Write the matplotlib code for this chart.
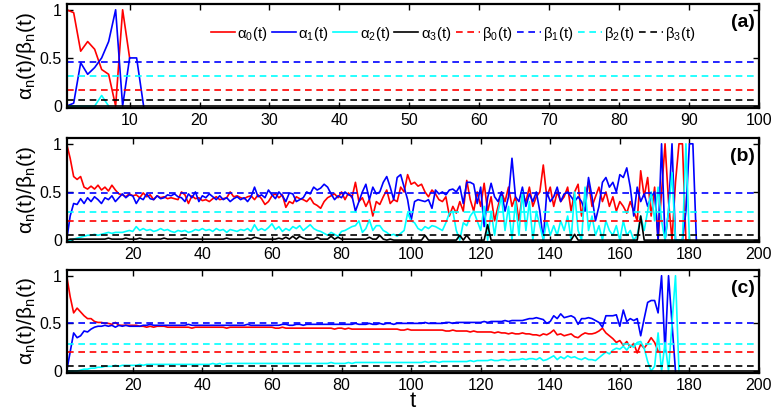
import numpy as np
import matplotlib.pyplot as plt

plt.rcParams['font.family'] = ['Liberation Sans', 'DejaVu Sans']
plt.rcParams['mathtext.fontset'] = 'custom'
plt.rcParams['mathtext.rm'] = 'Liberation Sans'
plt.rcParams['mathtext.it'] = 'Liberation Sans:italic'

# ---- data ----
# panel (a)
red_a = [1.00, 0.97, 0.57, 0.67, 0.59, 0.38, 0.33, 0.00, 1.00, 0.50]
blue_a = [0.00, 0.03, 0.45, 0.33, 0.40, 0.50, 0.67, 1.00, 0.00, 0.50, 0.50, 0.00]
cyan_a = [0.00, 0.00, 0.00, 0.00, 0.00, 0.11, 0.00]
black_a = [0.0] * 100
beta_a = [0.167, 0.46, 0.31, 0.06]

# panel (b)
red_b = [1.00, 0.85, 0.66, 0.63, 0.66, 0.55, 0.53, 0.56, 0.53, 0.57,
         0.52, 0.55, 0.51, 0.57, 0.52, 0.48, 0.47, 0.45, 0.48, 0.46,
         0.47, 0.44, 0.49, 0.45, 0.47, 0.42, 0.46, 0.44, 0.45, 0.43,
         0.44, 0.43, 0.42, 0.50, 0.47, 0.38, 0.46, 0.43, 0.44, 0.41,
         0.42, 0.40, 0.43, 0.45, 0.42, 0.43, 0.44, 0.50, 0.45, 0.46,
         0.44, 0.43, 0.45, 0.46, 0.42, 0.47, 0.43, 0.37, 0.40, 0.46,
         0.48, 0.44, 0.47, 0.34, 0.40, 0.38, 0.45, 0.43, 0.42, 0.40,
         0.44, 0.38, 0.36, 0.33, 0.40, 0.44, 0.46, 0.48, 0.44, 0.50,
         0.42, 0.49, 0.44, 0.60, 0.40, 0.44, 0.35, 0.42, 0.25, 0.40,
         0.37, 0.45, 0.52, 0.38, 0.42, 0.40, 0.55, 0.50, 0.68, 0.58,
         0.60, 0.56, 0.58, 0.50, 0.45, 0.52, 0.48, 0.42, 0.40, 0.45,
         0.25, 0.35, 0.28, 0.40, 0.30, 0.62, 0.42, 0.30, 0.50, 0.35,
         0.59, 0.30, 0.45, 0.20, 0.35, 0.50, 0.40, 0.55, 0.35, 0.45,
         0.20, 0.48, 0.40, 0.55, 0.35, 0.45, 0.50, 0.78, 0.45, 0.55,
         0.35, 0.50, 0.40, 0.45, 0.55, 0.30, 0.50, 0.58, 0.25, 0.45,
         0.60, 0.35, 0.45, 0.55, 0.40, 0.50, 0.35, 0.45, 0.30, 0.40,
         0.35, 0.28, 0.40, 0.30, 0.20, 0.72, 0.45, 0.65, 0.25, 0.55,
         0.00, 0.50, 1.00, 0.40, 0.00, 0.60, 1.00, 1.00, 0.00, 0.00]
blue_b = [0.00, 0.25, 0.38, 0.37, 0.43, 0.38, 0.44, 0.40, 0.45, 0.42,
          0.38, 0.44, 0.42, 0.46, 0.40, 0.44, 0.48, 0.44, 0.47, 0.46,
          0.38, 0.44, 0.42, 0.48, 0.43, 0.42, 0.46, 0.43, 0.44, 0.47,
          0.46, 0.48, 0.45, 0.44, 0.40, 0.48, 0.44, 0.50, 0.40, 0.46,
          0.44, 0.48, 0.45, 0.42, 0.46, 0.42, 0.44, 0.40, 0.43, 0.45,
          0.42, 0.44, 0.40, 0.45, 0.55, 0.45, 0.47, 0.44, 0.52, 0.47,
          0.43, 0.50, 0.46, 0.40, 0.49, 0.48, 0.40, 0.42, 0.44, 0.50,
          0.48, 0.55, 0.52, 0.54, 0.58, 0.55, 0.48, 0.42, 0.46, 0.44,
          0.50, 0.47, 0.46, 0.30, 0.40, 0.50, 0.58, 0.42, 0.55, 0.48,
          0.50, 0.60, 0.66, 0.55, 0.42, 0.65, 0.68, 0.55, 0.42, 0.20,
          0.40, 0.42, 0.41, 0.40, 0.42, 0.33, 0.52, 0.48, 0.50, 0.47,
          0.52, 0.53, 0.50, 0.56, 0.38, 0.60, 0.60, 0.58, 0.38, 0.55,
          0.14, 0.44, 0.59, 0.45, 0.40, 0.50, 0.30, 0.45, 0.85, 0.45,
          0.40, 0.55, 0.35, 0.48, 0.40, 0.50, 0.30, 0.00, 0.50, 0.40,
          0.45, 0.55, 0.40, 0.48, 0.50, 0.45, 0.40, 0.45, 0.40, 0.30,
          0.65, 0.45, 0.20, 0.35, 0.60, 0.65, 0.55, 0.60, 0.50, 0.68,
          0.65, 0.75, 0.55, 0.25, 0.55, 0.40, 0.48, 0.35, 0.45, 0.50,
          0.00, 1.00, 0.00, 0.30, 1.00, 0.00, 0.00, 0.00, 0.30, 1.00,
          1.00, 0.00]
cyan_b = [0.00, 0.00, 0.01, 0.02, 0.03, 0.04, 0.05, 0.05, 0.06, 0.05,
          0.06, 0.07, 0.08, 0.07, 0.08, 0.08, 0.08, 0.09, 0.10, 0.09,
          0.14, 0.10, 0.12, 0.10, 0.11, 0.09, 0.10, 0.12, 0.10, 0.11,
          0.09, 0.08, 0.10, 0.09, 0.10, 0.08, 0.09, 0.11, 0.10, 0.12,
          0.10, 0.11, 0.09, 0.12, 0.10, 0.11, 0.08, 0.11, 0.10, 0.09,
          0.11, 0.10, 0.12, 0.09, 0.16, 0.10, 0.12, 0.10, 0.13, 0.17,
          0.11, 0.14, 0.09, 0.12, 0.10, 0.14, 0.12, 0.15, 0.10, 0.13,
          0.16, 0.12, 0.10, 0.09, 0.07, 0.05, 0.08, 0.06, 0.04, 0.09,
          0.10, 0.12, 0.14, 0.15, 0.20, 0.08, 0.12, 0.21, 0.10, 0.15,
          0.15, 0.10, 0.08, 0.05, 0.06, 0.04, 0.07, 0.10, 0.28, 0.20,
          0.18, 0.12, 0.10, 0.14, 0.12, 0.15, 0.14, 0.12, 0.10, 0.18,
          0.28, 0.30, 0.10, 0.00, 0.18, 0.15, 0.25, 0.30, 0.20, 0.10,
          0.35, 0.00, 0.30, 0.05, 0.30, 0.45, 0.10, 0.35, 0.00, 0.40,
          0.05, 0.50, 0.10, 0.40, 0.00, 0.30, 0.15, 0.00, 0.20, 0.05,
          0.15, 0.05, 0.20, 0.10, 0.25, 0.00, 0.50, 0.10, 0.00, 0.55,
          0.10, 0.25, 0.05, 0.15, 0.00, 0.20, 0.10, 0.05, 0.15, 0.00,
          0.20, 0.05, 0.10, 0.00, 0.05, 0.25, 0.10, 0.30, 0.50, 0.20,
          0.55, 0.20, 0.00, 0.30, 0.70, 0.00, 0.00, 0.00, 1.00, 0.00]
black_b = [0.00, 0.01, 0.01, 0.01, 0.01, 0.01, 0.01, 0.01, 0.01, 0.01,
           0.01, 0.01, 0.02, 0.01, 0.01, 0.01, 0.01, 0.02, 0.01, 0.01,
           0.01, 0.02, 0.01, 0.01, 0.01, 0.01, 0.01, 0.01, 0.02, 0.01,
           0.01, 0.01, 0.01, 0.01, 0.02, 0.01, 0.01, 0.01, 0.01, 0.01,
           0.01, 0.01, 0.01, 0.01, 0.01, 0.01, 0.02, 0.01, 0.01, 0.01,
           0.01, 0.01, 0.02, 0.01, 0.03, 0.02, 0.01, 0.01, 0.01, 0.01,
           0.01, 0.02, 0.01, 0.03, 0.01, 0.04, 0.01, 0.04, 0.02, 0.01,
           0.01, 0.01, 0.03, 0.01, 0.01, 0.01, 0.04, 0.01, 0.03, 0.01,
           0.01, 0.01, 0.01, 0.01, 0.01, 0.01, 0.01, 0.03, 0.01, 0.01,
           0.05, 0.01, 0.00, 0.01, 0.00, 0.00, 0.00, 0.00, 0.00, 0.00,
           0.00, 0.00, 0.00, 0.05, 0.00, 0.00, 0.00, 0.00, 0.00, 0.00,
           0.00, 0.00, 0.00, 0.05, 0.00, 0.05, 0.00, 0.00, 0.00, 0.00,
           0.00, 0.16, 0.00, 0.00, 0.00, 0.00, 0.00, 0.00, 0.00, 0.00,
           0.00, 0.00, 0.00, 0.00, 0.00, 0.00, 0.00, 0.00, 0.00, 0.00,
           0.00, 0.00, 0.00, 0.00, 0.00, 0.00, 0.06, 0.00, 0.00, 0.00,
           0.00, 0.00, 0.00, 0.00, 0.00, 0.00, 0.00, 0.00, 0.00, 0.00,
           0.00, 0.00, 0.00, 0.00, 0.00, 0.25, 0.00, 0.00, 0.00, 0.00,
           0.00, 0.00, 0.00, 0.00, 0.00, 0.00, 0.00, 0.00, 0.00, 0.00,
           0.00, 0.00, 0.00, 0.00, 0.00, 0.00, 0.00, 0.00, 0.00, 0.00,
           0.00, 0.00, 0.00, 0.00, 0.00, 0.00, 0.00, 0.00, 0.00, 0.00]
beta_b = [0.196, 0.488, 0.29, 0.058]

# panel (c)
red_c = [1.00, 0.78, 0.61, 0.66, 0.62, 0.58, 0.55, 0.55, 0.52, 0.51,
         0.51, 0.50, 0.50, 0.49, 0.51, 0.48, 0.48, 0.48, 0.48, 0.48,
         0.48, 0.47, 0.47, 0.46, 0.47, 0.46, 0.47, 0.47, 0.47, 0.46,
         0.46, 0.46, 0.46, 0.46, 0.46, 0.46, 0.45, 0.46, 0.46, 0.46,
         0.46, 0.46, 0.46, 0.46, 0.46, 0.46, 0.45, 0.46, 0.46, 0.46,
         0.46, 0.46, 0.46, 0.46, 0.46, 0.46, 0.46, 0.46, 0.46, 0.46,
         0.45, 0.45, 0.46, 0.45, 0.45, 0.45, 0.45, 0.45, 0.45, 0.45,
         0.45, 0.45, 0.45, 0.45, 0.45, 0.45, 0.45, 0.44, 0.45, 0.45,
         0.44, 0.45, 0.44, 0.44, 0.44, 0.44, 0.44, 0.44, 0.44, 0.44,
         0.44, 0.44, 0.44, 0.44, 0.44, 0.44, 0.43, 0.43, 0.44, 0.43,
         0.43, 0.43, 0.43, 0.43, 0.43, 0.43, 0.43, 0.43, 0.43, 0.42,
         0.42, 0.43, 0.42, 0.42, 0.42, 0.42, 0.41, 0.42, 0.41, 0.41,
         0.41, 0.41, 0.41, 0.40, 0.41, 0.40, 0.40, 0.39, 0.40, 0.39,
         0.39, 0.40, 0.39, 0.39, 0.38, 0.38, 0.37, 0.39, 0.38, 0.40,
         0.43, 0.38, 0.39, 0.37, 0.38, 0.39, 0.36, 0.35, 0.38, 0.40,
         0.39, 0.39, 0.40, 0.42, 0.45, 0.40, 0.37, 0.34, 0.30, 0.32,
         0.27, 0.31, 0.25, 0.29, 0.19, 0.28, 0.24, 0.29, 0.35, 0.30,
         0.21]
blue_c = [0.00, 0.20, 0.40, 0.35, 0.37, 0.42, 0.41, 0.44, 0.46, 0.47,
          0.47, 0.48, 0.47, 0.48, 0.46, 0.48, 0.47, 0.48, 0.47, 0.47,
          0.47, 0.47, 0.48, 0.48, 0.49, 0.48, 0.48, 0.48, 0.48, 0.48,
          0.48, 0.48, 0.48, 0.48, 0.48, 0.49, 0.48, 0.48, 0.48, 0.48,
          0.48, 0.48, 0.48, 0.48, 0.48, 0.48, 0.48, 0.48, 0.48, 0.48,
          0.48, 0.48, 0.49, 0.48, 0.48, 0.48, 0.48, 0.48, 0.48, 0.48,
          0.48, 0.48, 0.49, 0.49, 0.48, 0.48, 0.49, 0.49, 0.48, 0.49,
          0.49, 0.49, 0.49, 0.49, 0.49, 0.49, 0.49, 0.49, 0.49, 0.49,
          0.49, 0.49, 0.49, 0.50, 0.49, 0.49, 0.49, 0.50, 0.49, 0.49,
          0.50, 0.49, 0.50, 0.50, 0.49, 0.50, 0.50, 0.50, 0.50, 0.50,
          0.50, 0.50, 0.50, 0.51, 0.50, 0.50, 0.50, 0.50, 0.50, 0.51,
          0.51, 0.50, 0.51, 0.51, 0.51, 0.51, 0.51, 0.51, 0.51, 0.51,
          0.52, 0.51, 0.52, 0.52, 0.52, 0.52, 0.53, 0.52, 0.53, 0.53,
          0.53, 0.53, 0.54, 0.55, 0.55, 0.56, 0.55, 0.54, 0.50, 0.52,
          0.58, 0.55, 0.60, 0.56, 0.57, 0.58, 0.56, 0.49, 0.55, 0.55,
          0.56, 0.55, 0.53, 0.51, 0.46, 0.58, 0.58, 0.58, 0.59, 0.47,
          0.64, 0.52, 0.55, 0.53, 0.55, 0.37, 0.55, 0.72, 0.74, 0.74,
          0.61, 1.00, 0.20, 1.00, 0.50, 0.00]
cyan_c = [0.00, 0.00, 0.00, 0.00, 0.01, 0.02, 0.02, 0.03, 0.03, 0.04,
          0.04, 0.05, 0.05, 0.05, 0.06, 0.05, 0.06, 0.06, 0.06, 0.06,
          0.06, 0.07, 0.06, 0.07, 0.07, 0.07, 0.07, 0.07, 0.07, 0.07,
          0.07, 0.07, 0.07, 0.07, 0.07, 0.07, 0.07, 0.07, 0.07, 0.07,
          0.07, 0.07, 0.08, 0.07, 0.08, 0.07, 0.08, 0.08, 0.08, 0.08,
          0.08, 0.08, 0.08, 0.08, 0.08, 0.08, 0.08, 0.08, 0.08, 0.08,
          0.08, 0.08, 0.08, 0.08, 0.08, 0.08, 0.08, 0.08, 0.08, 0.08,
          0.08, 0.08, 0.08, 0.08, 0.08, 0.08, 0.09, 0.08, 0.08, 0.08,
          0.08, 0.09, 0.08, 0.09, 0.09, 0.09, 0.09, 0.09, 0.09, 0.09,
          0.09, 0.09, 0.09, 0.09, 0.09, 0.09, 0.09, 0.09, 0.09, 0.09,
          0.09, 0.09, 0.09, 0.10, 0.09, 0.10, 0.10, 0.09, 0.10, 0.10,
          0.10, 0.10, 0.10, 0.10, 0.10, 0.10, 0.11, 0.10, 0.11, 0.11,
          0.11, 0.11, 0.12, 0.11, 0.11, 0.12, 0.12, 0.11, 0.12, 0.12,
          0.12, 0.13, 0.12, 0.13, 0.13, 0.12, 0.14, 0.11, 0.12, 0.14,
          0.16, 0.12, 0.15, 0.13, 0.16, 0.14, 0.15, 0.13, 0.12, 0.14,
          0.12, 0.12, 0.11, 0.14, 0.17, 0.20, 0.18, 0.22, 0.24, 0.23,
          0.26, 0.22, 0.27, 0.25, 0.30, 0.31, 0.24, 0.10, 0.00, 0.05,
          0.40, 0.00, 0.30, 0.00, 0.50, 1.00, 0.00]
black_c = [0.0] * 200
beta_c = [0.204, 0.50, 0.285, 0.053]

colors = ['#ff0000', '#0000ff', '#00ffff', '#000000']
alpha_labels = ['α$_0$(t)', 'α$_1$(t)', 'α$_2$(t)', 'α$_3$(t)']
beta_labels = ['β$_0$(t)', 'β$_1$(t)', 'β$_2$(t)', 'β$_3$(t)']


def draw_panel(ax, alphas, betas, xmax, xticks, tag):
    for series, c, lab in zip(alphas, colors, alpha_labels):
        t = np.arange(1, len(series) + 1)
        ax.plot(t, series, color=c, lw=1.2, label=lab)
    for b, c, lab in zip(betas, colors, beta_labels):
        ax.axhline(b, color=c, lw=1.2, dashes=(4, 2.8), label=lab)
    ax.set_xlim(1, xmax)
    ax.set_ylim(-0.02, 1.06)
    ax.set_xticks(xticks)
    ax.set_yticks([0, 0.5, 1])
    ax.set_yticklabels(['0', '0.5', '1'])
    ax.tick_params(direction='in', top=True, right=True, length=4,
                   width=1, labelsize=11.5)
    for s in ax.spines.values():
        s.set_linewidth(1.6)
    ax.set_ylabel('α$_\\mathrm{n}$(t)/β$_\\mathrm{n}$(t)', fontsize=15,
                  labelpad=1)
    ax.text(0.994, 0.82, tag, transform=ax.transAxes, ha='right',
            va='center', fontsize=14, fontweight='bold')


fig = plt.figure(figsize=(7.79, 4.13), dpi=100)
ax_a = fig.add_axes([0.0856, 0.7385, 0.8887, 0.2518])
ax_b = fig.add_axes([0.0856, 0.414, 0.8887, 0.2518])
ax_c = fig.add_axes([0.0856, 0.0969, 0.8887, 0.2494])

draw_panel(ax_a, [red_a, blue_a, cyan_a, black_a], beta_a, 100,
           range(10, 101, 10), '(a)')
draw_panel(ax_b, [red_b, blue_b, cyan_b, black_b], beta_b, 200,
           range(20, 201, 20), '(b)')
draw_panel(ax_c, [red_c, blue_c, cyan_c, black_c], beta_c, 200,
           range(20, 201, 20), '(c)')

ax_a.legend(ncol=8, loc='upper left', bbox_to_anchor=(0.2, 0.86),
            frameon=False, fontsize=10.8, handlelength=1.6,
            handletextpad=0.15, columnspacing=0.3, borderaxespad=0)
ax_c.set_xlabel('t', fontsize=16, labelpad=-1)

fig.savefig('out.png', dpi=100)
